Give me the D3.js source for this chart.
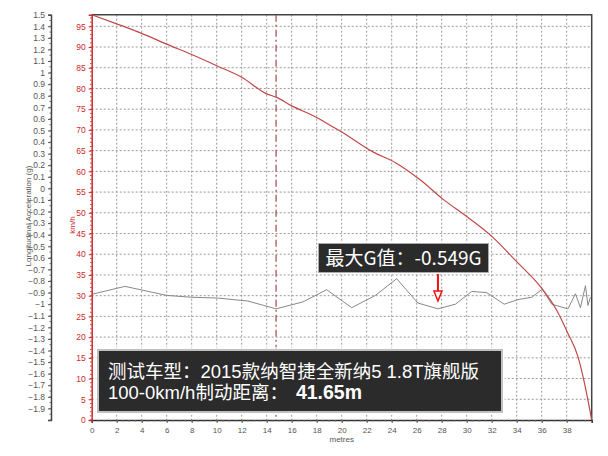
<!DOCTYPE html>
<html>
<head>
<meta charset="utf-8">
<script src="https://cdn.jsdelivr.net/npm/d3@7"></script>
<style>
  body { margin: 0; background: #fff; }
  svg { display: block; font-family: "Liberation Sans", Arial, sans-serif; }
</style>
</head>
<body>
<svg id="chart"></svg>
<script>
// speed trace (km/h against metres)
const speedDist = [0, 2, 4, 6, 8, 10, 12, 14, 14.75, 16, 18, 18.8, 20, 22.5, 24.3, 26.3, 28.1, 30, 31.9, 34, 36, 37.2, 38.1, 38.9, 39.4, 39.7, 39.9, 40];
const speed = [97.8, 95.6, 93.3, 90.7, 88.2, 85.5, 82.7, 78.7, 77.9, 75.8, 73, 71.6, 69.5, 64.7, 62.1, 57.9, 53.3, 49.1, 44.6, 38.2, 31.8, 26.5, 20.9, 15.3, 9.2, 4.8, 1.6, 0];

// longitudinal acceleration trace (g against metres)
const accDist = [0, 2.66, 6, 8, 10.1, 12.5, 14.75, 16.9, 18.8, 20.8, 22.7, 24.4, 26.1, 27.7, 29.1, 30.4, 31.6, 33.0, 34.1, 35.2, 36.05, 36.8, 38.1, 38.7, 39.1, 39.5, 39.7, 39.9];
const accel = [-0.915, -0.846, -0.924, -0.94, -0.947, -0.973, -1.04, -0.98, -0.875, -1.03, -0.924, -0.78, -0.99, -1.04, -1.0, -0.89, -0.90, -1.0, -0.96, -0.94, -0.87, -1.0, -1.04, -0.91, -1.03, -0.84, -1.01, -0.94];

const xTicks = d3.range(0, 39, 2);
const speedTicks = d3.range(0, 96, 5);
const accTicks = d3.range(15, -20, -1).map(d => d / 10);
const markerDist = 14.75;
const peakDist = 27.7;

const gLabel = "最大G值：-0.549G";
const infoLine1 = "测试车型：2015款纳智捷全新纳5 1.8T旗舰版";
const infoLine2 = "100-0km/h制动距离：";
const infoValue = "41.65m";

const width = 608, height = 456;
const plot = {left: 91.7, right: 591.7, top: 14.7, bottom: 420};
const accAxisX = 51;

const svg = d3.select("#chart").attr("width", width).attr("height", height);

const x = d3.scaleLinear().domain([0, 40]).range([plot.left, plot.right]);
const ySpeed = d3.scaleLinear().domain([0, 97.8]).range([plot.bottom, plot.top]);
const yAcc = d3.scaleLinear().domain([-2, 1.5]).range([plot.bottom, plot.top]);

const red = "#cc2a2a";
const gray = "#555";

// grid
const grid = svg.append("g")
    .attr("stroke", "#999")
    .attr("stroke-dasharray", "2,2")
    .attr("stroke-width", 1);
grid.selectAll(".gx")
    .data(xTicks.filter(d => d > 0))
    .join("line")
    .attr("x1", d => x(d)).attr("x2", d => x(d))
    .attr("y1", plot.top).attr("y2", plot.bottom);
grid.selectAll(".gy")
    .data(speedTicks.filter(d => d > 0))
    .join("line")
    .attr("x1", plot.left).attr("x2", plot.right)
    .attr("y1", d => ySpeed(d)).attr("y2", d => ySpeed(d));

// frame top / right
svg.append("path")
    .attr("d", `M${plot.left},${plot.top}H${plot.right}V${plot.bottom}`)
    .attr("fill", "none")
    .attr("stroke", "#444")
    .attr("stroke-width", 1.5);

// vertical marker at distance of interest
svg.append("line")
    .attr("x1", x(markerDist)).attr("x2", x(markerDist))
    .attr("y1", plot.top).attr("y2", plot.bottom)
    .attr("stroke", "#9a4a4a")
    .attr("stroke-width", 1.2)
    .attr("stroke-dasharray", "7,3,2,3");

// acceleration line
svg.append("path")
    .datum(accDist.map((d, i) => [d, accel[i]]))
    .attr("d", d3.line().x(d => x(d[0])).y(d => yAcc(d[1])))
    .attr("fill", "none")
    .attr("stroke", "#888")
    .attr("stroke-width", 1);

// speed line
svg.append("path")
    .datum(speedDist.map((d, i) => [d, speed[i]]))
    .attr("d", d3.line().curve(d3.curveMonotoneX).x(d => x(d[0])).y(d => ySpeed(d[1])))
    .attr("fill", "none")
    .attr("stroke", "#c04848")
    .attr("stroke-width", 1.2);

// bottom axis
const xAxis = svg.append("g")
    .attr("transform", `translate(0,${plot.bottom})`)
    .call(d3.axisBottom(x).tickValues(xTicks).tickSize(3).tickFormat(d3.format("d")));
xAxis.select(".domain").attr("stroke", "#333").attr("stroke-width", 1.5);
xAxis.selectAll(".tick line").attr("stroke", "#555");
xAxis.selectAll("text").attr("fill", gray).style("font-size", "8px").attr("dy", "0.9em");
xAxis.append("g").selectAll("line")
    .data(d3.range(0, 40, 0.5))
    .join("line")
    .attr("x1", d => x(d)).attr("x2", d => x(d))
    .attr("y1", 0).attr("y2", 1.5)
    .attr("stroke", "#666");

svg.append("text")
    .attr("x", x(20)).attr("y", 442)
    .attr("text-anchor", "middle")
    .attr("fill", gray)
    .style("font-size", "8px")
    .text("metres");

// speed axis (red)
const sAxis = svg.append("g")
    .attr("transform", `translate(${plot.left},0)`)
    .call(d3.axisLeft(ySpeed).tickValues(speedTicks).tickSize(3).tickFormat(d3.format("d")));
sAxis.select(".domain").attr("stroke", red).attr("stroke-width", 1.5);
sAxis.selectAll(".tick line").attr("stroke", red);
sAxis.selectAll("text").attr("fill", red).style("font-size", "8.5px");
sAxis.append("g").selectAll("line")
    .data(d3.range(0, 98, 1))
    .join("line")
    .attr("x1", 0).attr("x2", -1.5)
    .attr("y1", d => ySpeed(d)).attr("y2", d => ySpeed(d))
    .attr("stroke", red);

svg.append("text")
    .attr("transform", `translate(75,225) rotate(-90)`)
    .attr("text-anchor", "middle")
    .attr("fill", red)
    .style("font-size", "8px")
    .text("km/h");

// acceleration axis (gray)
const aAxis = svg.append("g")
    .attr("transform", `translate(${accAxisX},0)`)
    .call(d3.axisLeft(yAcc).tickValues(accTicks).tickSize(3).tickFormat(d => d3.format("")(+d.toFixed(1))));
aAxis.select(".domain").attr("stroke", "#444").attr("stroke-width", 1.5);
aAxis.selectAll(".tick line").attr("stroke", "#555");
aAxis.selectAll("text").attr("fill", gray).style("font-size", "8.5px");
aAxis.append("g").selectAll("line")
    .data(d3.range(-40, 31, 1).map(d => d / 20))
    .join("line")
    .attr("x1", 0).attr("x2", -1.5)
    .attr("y1", d => yAcc(d)).attr("y2", d => yAcc(d))
    .attr("stroke", "#666");

svg.append("text")
    .attr("transform", `translate(31,216) rotate(-90)`)
    .attr("text-anchor", "middle")
    .attr("fill", gray)
    .style("font-size", "8px")
    .text("Longitudinal Acceleration (g)");

// peak G label
const cjk = "'Noto Sans CJK SC', 'Noto Sans', sans-serif";
const mixed = "'Liberation Sans', 'Noto Sans CJK SC', sans-serif";
svg.append("rect")
    .attr("x", 318).attr("y", 243)
    .attr("width", 171).attr("height", 30)
    .attr("fill", "#2b2b2b")
    .attr("stroke", "#fff")
    .attr("stroke-opacity", 0.6)
    .attr("stroke-width", 2);
svg.append("text")
    .attr("x", 403.5).attr("y", 265)
    .attr("text-anchor", "middle")
    .attr("fill", "#fff")
    .style("font-family", cjk)
    .style("font-size", "19px")
    .text(gLabel);

// red arrow towards the peak
const ax = x(peakDist);
svg.append("line")
    .attr("x1", ax).attr("x2", ax)
    .attr("y1", 274).attr("y2", 292)
    .attr("stroke", "#ee1111")
    .attr("stroke-width", 2);
svg.append("path")
    .attr("d", `M${ax - 4},291 L${ax + 4},291 L${ax},301 Z`)
    .attr("fill", "#fff")
    .attr("stroke", "#ee1111")
    .attr("stroke-width", 1.5);

// vehicle info box
svg.append("rect")
    .attr("x", 97).attr("y", 349)
    .attr("width", 406).attr("height", 64)
    .attr("fill", "#2b2b2b")
    .attr("stroke", "#fff")
    .attr("stroke-opacity", 0.7)
    .attr("stroke-width", 4);
svg.append("text")
    .attr("x", 108).attr("y", 378)
    .attr("fill", "#fff")
    .style("font-family", mixed)
    .style("font-size", "18.5px")
    .text(infoLine1);
const info2 = svg.append("text")
    .attr("x", 108).attr("y", 399)
    .attr("fill", "#fff")
    .style("font-family", mixed)
    .style("font-size", "18.5px");
info2.append("tspan").text(infoLine2);
info2.append("tspan").attr("dx", 8).style("font-weight", "bold").style("font-size", "19.5px").text(infoValue);
</script>
</body>
</html>
